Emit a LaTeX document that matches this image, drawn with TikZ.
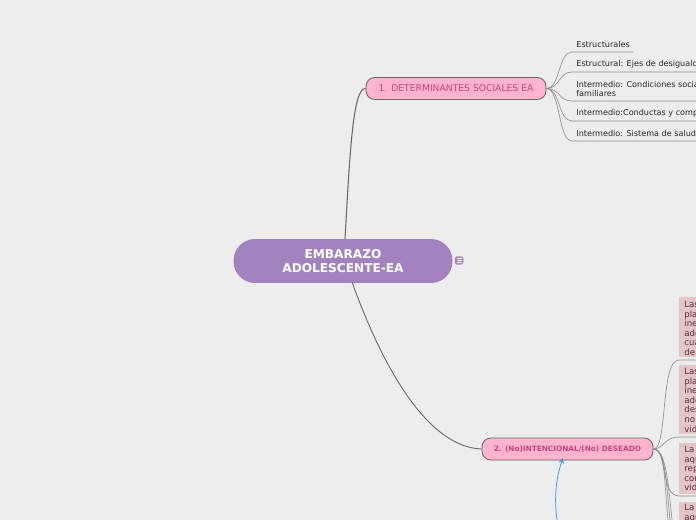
\documentclass[tikz,border=0pt]{standalone}
\usepackage{fontspec}
\setmainfont{DejaVu Sans}
\definecolor{pagegrey}{HTML}{EDEDED}
\definecolor{centrefill}{HTML}{A283C0}
\definecolor{topicfill}{HTML}{FFB3CF}
\definecolor{topictext}{HTML}{C2457A}
\definecolor{notefill}{HTML}{E2C6CA}
\definecolor{notetext}{HTML}{5A2A35}
\definecolor{linkblue}{HTML}{3F97EE}
\tikzset{
  topic/.style={draw=black!60, line width=0.5pt, fill=topicfill, rounded corners=5pt, minimum height=0.44cm, text=topictext, inner sep=0pt},
  leaf/.style={anchor=south west, inner xsep=2.3pt, inner ysep=2.2pt, font=\fontsize{4.6}{5.2}\selectfont, align=left, text=black!85},
  note/.style={anchor=north west, fill=notefill, inner sep=0pt, minimum width=1cm},
  notetext/.style={anchor=north west, inner sep=0pt, align=left, font=\fontsize{4.9}{5.45}\selectfont, text=notetext},
  branch/.style={draw=black!45, line width=0.35pt},
}
\begin{document}
\begin{tikzpicture}[x=0.02cm,y=-0.02cm]
  \fill[pagegrey] (0,0) rectangle (696,520);
  \useasboundingbox (0,0) rectangle (696,520);
  \clip (0,0) rectangle (696,520);

  % Central topic
  \node[fill=centrefill, rounded corners=0.43cm, minimum width=4.38cm, minimum height=0.88cm, text=white, align=center, font=\fontsize{6.9}{8}\selectfont\bfseries, inner sep=0pt] (centre) at (343,261) {EMBARAZO\\ADOLESCENTE-EA};
  \node[fill=centrefill, rounded corners=1pt, minimum size=0.17cm, inner sep=0pt] (noteicon) at (459,260.5) {};
  \foreach \iconrow in {-2,0,2}{
    \draw[white, line width=0.3pt] ([shift={(-2.5,\iconrow)}]noteicon.center) -- ([shift={(2.5,\iconrow)}]noteicon.center);
  }

  % Main topics
  \node[topic, minimum width=3.6cm, font=\fontsize{5.24}{6}\selectfont] (social) at (456,88.5) {1. DETERMINANTES SOCIALES EA};
  \node[topic, minimum width=3.42cm, font=\fontsize{4.17}{5}\selectfont\bfseries] (intent) at (567.5,449) {2. (No)INTENCIONAL/(No) DESEADO};

  \draw[black!60, line width=0.6pt] (345,239) .. controls (350,150) and (353,88) .. (social.west);
  \draw[black!60, line width=0.5pt] (352,282) .. controls (380,360) and (425,447) .. (intent.west);

  % Subtopics of the first branch
  \node[leaf] (l1) at (572,52) {Estructurales};
  \node[leaf] (l2) at (572,72) {Estructural: Ejes de desiguald};
  \node[leaf] (l3) at (572,101) {Intermedio: Condiciones socia\\familiares};
  \node[leaf] (l4) at (572,121) {Intermedio:Conductas y comp};
  \node[leaf] (l5) at (572,141) {Intermedio: Sistema de salud};

  \coordinate (l1end) at (634,52);
  \coordinate (l2end) at (696,72);
  \coordinate (l3end) at (696,101);
  \coordinate (l4end) at (696,121);
  \coordinate (l5end) at (696,141);
  \foreach \leafname in {l1,l2,l3,l4,l5}{
    \draw[branch] (social.east) .. controls +(14,0) and +(-14,0) .. (\leafname.south west) -- (\leafname end);
  }

  % Notes of the second branch
  \node[note, minimum height=1.2cm] (n1) at (679,297) {};
  \node[note, minimum height=1.38cm] (n2) at (679,365) {};
  \node[note, minimum height=1.02cm] (n3) at (679,443) {};
  \node[note, minimum height=1cm] (n4) at (679,502) {};
  \node[notetext] (t1) at (684,301) {Las\\plan\\ines\\ado\\cua\\de};
  \node[notetext] (t2) at (684,368) {Las\\plan\\ines\\ado\\des\\no\\vida};
  \node[notetext] (t3) at (684,446) {La c\\aqu\\rep\\con\\vida};
  \node[notetext] (t4) at (684,504) {La c\\aqu};

  \coordinate (n1end) at (696,360);
  \coordinate (n2end) at (696,437);
  \coordinate (n3end) at (696,496);
  \coordinate (n4end) at (668,520);
  \coordinate (n5end) at (670,520);
  \coordinate (n6end) at (672,520);
  \draw[branch] (intent.east) .. controls (668,449) and (660,360) .. (679,360) -- (n1end);
  \draw[branch] (intent.east) .. controls (664,449) and (664,437) .. (679,437) -- (n2end);
  \draw[branch] (intent.east) .. controls (668,449) and (660,496) .. (679,496) -- (n3end);
  \foreach \lowerend in {n4end,n5end,n6end}{
    \draw[branch] (intent.east) .. controls +(12,0) and +(-4,-40) .. (\lowerend);
  }

  % Arrow from below
  \coordinate (linkstart) at (557,520);
  \coordinate (linkend) at (563,458);
  \draw[-stealth, linkblue, line width=0.45pt] (linkstart) .. controls (554,498) and (556,478) .. (linkend);
\end{tikzpicture}
\end{document}
